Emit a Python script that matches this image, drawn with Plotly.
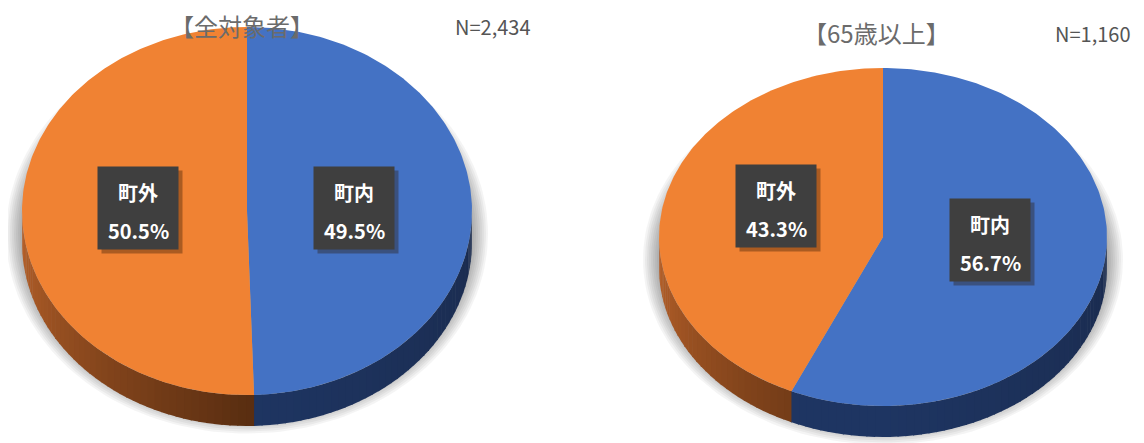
import numpy as np
import plotly.graph_objects as go

# ---- data ----
categories = ["町内", "町外"]
values_all = [49.5, 50.5]
values_65 = [56.7, 43.3]
titles = ["【全対象者】", "【65歳以上】"]
n_labels = ["N=2,434", "N=1,160"]

top_colors = {"町内": "#4472C4", "町外": "#F08233"}

# ---- layout geometry (page pixels) ----
W, H = 1144, 443
OFF = 8  # default page body margin
pies = [
    dict(values=values_all, cx=247, cy=211, rx=225, ry=184, depth=31,
         title=titles[0], n=n_labels[0], tpos=(242, 25), npos=(493, 26),
         lpos={"町内": (354, 208), "町外": (138, 208)}),
    dict(values=values_65, cx=883, cy=237, rx=224, ry=169, depth=31,
         title=titles[1], n=n_labels[1], tpos=(876, 32), npos=(1093, 33),
         lpos={"町内": (990, 240), "町外": (776, 206)}),
]

fig = go.Figure()


def ell(p, th_deg, dy=0.0, grow=0.0):
    t = np.radians(th_deg)
    x = p["cx"] + (p["rx"] + grow) * np.sin(t)
    y = p["cy"] - (p["ry"] + grow) * np.cos(t) + dy
    return x, y


def lerp_color(c1, c2, f):
    a = [int(c1[i:i + 2], 16) for i in (1, 3, 5)]
    b = [int(c2[i:i + 2], 16) for i in (1, 3, 5)]
    c = [round(a[k] + (b[k] - a[k]) * f) for k in range(3)]
    return "rgb(%d,%d,%d)" % tuple(c)


side_grad = {
    "町外": ("#B9622A", "#5A2E11"),
    "町内": ("#1E3562", "#1A2B4E"),
}

for p in pies:
    # soft shadow
    for k in range(9):
        g = 16 - 2 * k
        th = np.linspace(0, 360, 181)
        x, y = ell(p, th, dy=p["depth"] * 0.6 + 4, grow=g)
        fig.add_trace(go.Scatter(x=x, y=y, fill="toself", mode="lines",
                                 line=dict(width=0), fillcolor="rgba(0,0,0,0.045)",
                                 hoverinfo="skip", showlegend=False))
    cum = np.cumsum([0] + p["values"]) / sum(p["values"]) * 360
    ranges = {categories[i]: (cum[i], cum[i + 1]) for i in range(len(categories))}
    # side walls (front half: 90..270)
    for cat, (a, b) in ranges.items():
        lo, hi = max(a, 90), min(b, 270)
        if hi <= lo:
            continue
        steps = np.arange(lo, hi, 2.0)
        edges = list(steps) + [hi]
        c1, c2 = side_grad[cat]
        for s0, s1 in zip(edges[:-1], edges[1:]):
            mid = (s0 + s1) / 2
            if cat == "町外":
                f = np.clip((270 - mid) / (270 - 180), 0, 1)
            else:
                f = np.clip((180 - mid) / 90, 0, 1)
            th = np.linspace(s0, s1 + 0.3, 4)
            xt, yt = ell(p, th)
            xb, yb = ell(p, th[::-1], dy=p["depth"])
            fig.add_trace(go.Scatter(x=np.r_[xt, xb], y=np.r_[yt, yb], fill="toself",
                                     mode="lines", line=dict(width=0),
                                     fillcolor=lerp_color(c1, c2, f),
                                     hoverinfo="skip", showlegend=False))
    # top faces
    for cat, (a, b) in ranges.items():
        th = np.linspace(a, b, 200)
        x, y = ell(p, th)
        x = np.r_[p["cx"], x, p["cx"]]
        y = np.r_[p["cy"], y, p["cy"]]
        fig.add_trace(go.Scatter(x=x, y=y, fill="toself", mode="lines",
                                 line=dict(width=0), fillcolor=top_colors[cat],
                                 hoverinfo="skip", showlegend=False, name=cat))
    # labels
    for i, cat in enumerate(categories):
        lx, ly = p["lpos"][cat]
        fig.add_annotation(x=lx + 4, y=ly + 4, text=" ", showarrow=False,
                           width=78, height=80, bgcolor="rgba(40,20,0,0.35)")
        fig.add_annotation(x=lx, y=ly, text=" ", showarrow=False,
                           width=78, height=80, bgcolor="#3F3F3F")
        fig.add_annotation(x=lx, y=ly - 16, text="<b>%s</b>" % cat, showarrow=False,
                           font=dict(size=20, color="white", family="Noto Sans CJK JP"))
        fig.add_annotation(x=lx, y=ly + 22, text="<b>%.1f%%</b>" % p["values"][i],
                           showarrow=False,
                           font=dict(size=20, color="white", family="Noto Sans CJK JP"))
    # titles
    fig.add_annotation(x=p["tpos"][0], y=p["tpos"][1], text=p["title"], showarrow=False,
                       font=dict(size=24, color="#6B6B6B", family="Noto Sans CJK JP"))
    fig.add_annotation(x=p["npos"][0], y=p["npos"][1], text=p["n"], showarrow=False,
                       font=dict(size=20, color="#555555", family="Noto Sans CJK JP"))

fig.update_layout(
    width=W - OFF, height=H - OFF, margin=dict(l=0, r=0, t=0, b=0),
    plot_bgcolor="white", paper_bgcolor="white", showlegend=False,
    xaxis=dict(range=[OFF, W], visible=False, fixedrange=True),
    yaxis=dict(range=[H, OFF], visible=False, fixedrange=True),
    hovermode=False,
)
fig.write_html("out.html")
